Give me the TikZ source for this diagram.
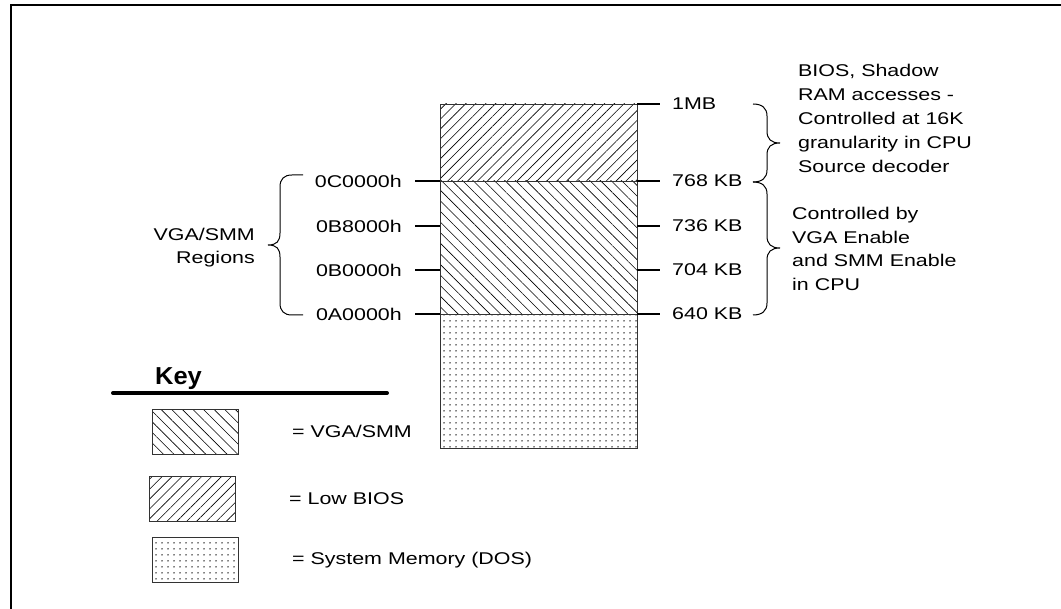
\documentclass[tikz,border=0pt]{standalone}
\usepackage{fontspec}
\setmainfont{Liberation Sans}
\newfontfamily\lblfont[FakeStretch=1.26]{Liberation Sans}
\newfontfamily\keyfont[FakeStretch=1.04]{Liberation Sans}
\usetikzlibrary{patterns.meta}
\begin{document}
\begin{tikzpicture}[x=1pt,y=-1pt,
  lbl/.style={font=\lblfont\fontsize{17}{24}\selectfont, inner sep=0pt},
  tick/.style={line width=1.3pt},
  boxline/.style={draw=black!80, line width=0.9pt},
  bios/.style={pattern={Lines[angle=45,distance=7pt,line width=0.6pt]}},
  vga/.style={pattern={Lines[angle=-45,distance=7.5pt,line width=0.6pt]}},
  dos/.style={pattern={Dots[distance=6pt,radius=0.75pt]}},
  keybox/.style={boxline, minimum width=86pt, minimum height=45pt, anchor=north west, inner sep=0pt},
  bracepath/.style={line width=1pt}]
\useasboundingbox (0,0) rectangle (1061,609);
% frame
\draw[line width=2.4pt] (11,609) -- (11,5) -- (1061,5);
% memory column
\path[bios] (440,104) rectangle (637,181);
\path[vga] (440,181) rectangle (637,314);
\path[dos] (440,314) rectangle (637,448);
\draw[boxline] (440,104) rectangle (637,448);
\draw[boxline] (440,181) -- (637,181);
\draw[boxline] (440,314) -- (637,314);
% anchor coordinates on box edges
\coordinate (R1) at (637,104);
\coordinate (R2) at (637,181);
\coordinate (R3) at (637,226);
\coordinate (R4) at (637,270);
\coordinate (R5) at (637,314);
\coordinate (L1) at (440,181);
\coordinate (L2) at (440,226);
\coordinate (L3) at (440,270);
\coordinate (L4) at (440,314);
% right labels
\node[lbl, anchor=west] (m1) at (672,104) {1MB};
\node[lbl, anchor=west] (m2) at (672,181) {768 KB};
\node[lbl, anchor=west] (m3) at (672,226) {736 KB};
\node[lbl, anchor=west] (m4) at (672,270) {704 KB};
\node[lbl, anchor=west] (m5) at (672,314) {640 KB};
\foreach \i in {1,...,5} {\draw[tick, shorten >=12pt] (R\i) -- (m\i.west);}
% left labels
\node[lbl, anchor=east] (h1) at (402,181) {0C0000h};
\node[lbl, anchor=east] (h2) at (402,226) {0B8000h};
\node[lbl, anchor=east] (h3) at (402,270) {0B0000h};
\node[lbl, anchor=east] (h4) at (402,314) {0A0000h};
\foreach \i in {1,...,4} {\draw[tick, shorten <=13pt] (h\i.east) -- (L\i);}
% left brace
\draw[bracepath] (303,175) -- (292,175) .. controls (284,175) and (280,179) .. (280,187) -- (280,233)
  .. controls (280,241) and (277,245) .. (268,245) .. controls (277,245) and (280,249) .. (280,257)
  -- (280,303) .. controls (280,311) and (284,315) .. (292,315) -- (303,315);
\node[lbl, anchor=north east, align=right, font=\lblfont\fontsize{17}{23}\selectfont] (t3) at (255,228) {VGA/SMM\\Regions};
% right braces
\draw[bracepath] (753,104) .. controls (762,104) and (767,108) .. (767,116) -- (767,131)
  .. controls (767,139) and (771,143) .. (780,143) .. controls (771,143) and (767,147) .. (767,155)
  -- (767,170) .. controls (767,178) and (762,182) .. (753,182);
\draw[bracepath] (753,182) .. controls (762,182) and (767,186) .. (767,194) -- (767,236)
  .. controls (767,244) and (771,248) .. (780,248) .. controls (771,248) and (767,252) .. (767,260)
  -- (767,303) .. controls (767,311) and (762,315) .. (753,315);
\node[lbl, anchor=north west, align=left] (t1) at (798,64) {BIOS, Shadow\\RAM accesses -\\Controlled at 16K\\granularity in CPU\\Source decoder};
\node[lbl, anchor=north west, align=left, font=\lblfont\fontsize{17}{23.5}\selectfont] (t2) at (792,207) {Controlled by\\VGA Enable\\and SMM Enable\\in CPU};
% key
\node[font=\keyfont\bfseries\fontsize{24.5}{28}\selectfont, inner sep=0pt, anchor=base] (key) at (178.5,385) {Key};
\draw[line width=4pt, line cap=round] (113,393) -- (387,393);
\node[keybox, vga] (k1) at (152,409) {};
\node[keybox, bios] (k2) at (149,476) {};
\node[keybox, dos] (k3) at (152,537) {};
\node[lbl, anchor=base west] (e1) at (292,438) {= VGA/SMM};
\node[lbl, anchor=base west] (e2) at (289,504) {= Low BIOS};
\node[lbl, anchor=base west] (e3) at (292,565) {= System Memory (DOS)};
\end{tikzpicture}
\end{document}
